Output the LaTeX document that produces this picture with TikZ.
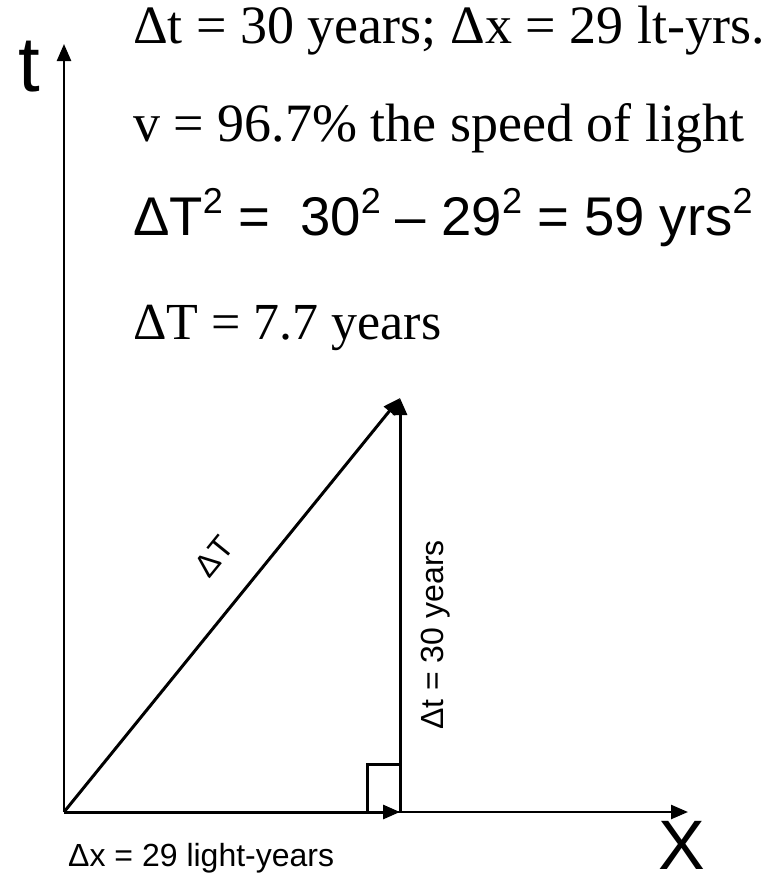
\documentclass[tikz,border=0pt]{standalone}
\usepackage{fontspec}
\setmainfont{Liberation Serif}
\setsansfont{Liberation Sans}
\usepackage{tikz}
\usetikzlibrary{arrows.meta, positioning, calc}
\newcommand{\squared}{\raisebox{0.4em}{\fontsize{36}{36}\selectfont 2}}
\tikzset{
  vec/.style={line width=3pt, -{Triangle[length=17pt, width=14pt]}},
  bigline/.style={anchor=base west, inner sep=0pt, font=\fontsize{54}{60}\selectfont},
  sumline/.style={anchor=base west, inner sep=0pt, font=\sffamily\fontsize{54.5}{60}\selectfont},
  sidelabel/.style={inner sep=0pt, font=\sffamily\fontsize{32}{38}\selectfont},
  axisname/.style={anchor=base west, inner sep=0pt, font=\sffamily\fontsize{78}{90}\selectfont}
}
\begin{document}
\begin{tikzpicture}[x=1pt, y=-1pt]
  \useasboundingbox (0,0) rectangle (771,887);
  % Points of the triangle
  \coordinate (O) at (64,812);
  \coordinate (ttip) at (64,44);
  \coordinate (xtip) at (688,812);
  \coordinate (corner) at (400,812);
  \coordinate (top) at (400,398);

  % Axes
  \draw[vec, line width=2.5pt] (O) -- (ttip);
  \draw[vec, line width=2.5pt] (O) -- (xtip);
  \node[axisname] (tname) at (18,91) {t};
  \node[axisname, anchor=base, font=\sffamily\fontsize{70}{80}\selectfont] (xname) at (682,869) {X};

  % Triangle sides
  \draw[vec] (O) -- (corner);
  \draw[vec] (corner) -- (top);
  \draw[vec] (O) -- (top)
    node[pos=0.55, sloped, above=32pt, sidelabel] (dTlab) {ΔT};
  \draw[line width=3pt] ($(corner)+(0,-48)$) -| ($(corner)+(-33,0)$);

  % Side labels
  \node[sidelabel, rotate=90] (dtlab) at (436,635) {Δt = 30 years};
  \node[sidelabel, anchor=base west] (dxlab) at (68,866) {Δx = 29 light-years};

  % Working
  \node[bigline] (line1) at (133,43) {Δt = 30 years; Δx = 29 lt-yrs.};
  \node[bigline] (line2) at (133,141) {v = 96.7\% the speed of light};
  \node[sumline] (line3) at (133,235) {ΔT\squared{} =\ \ 30\squared{} – 29\squared{} = 59 yrs\squared};
  \node[bigline, font=\fontsize{52}{60}\selectfont] (line4) at (133,339) {ΔT = 7.7 years};
\end{tikzpicture}
\end{document}
